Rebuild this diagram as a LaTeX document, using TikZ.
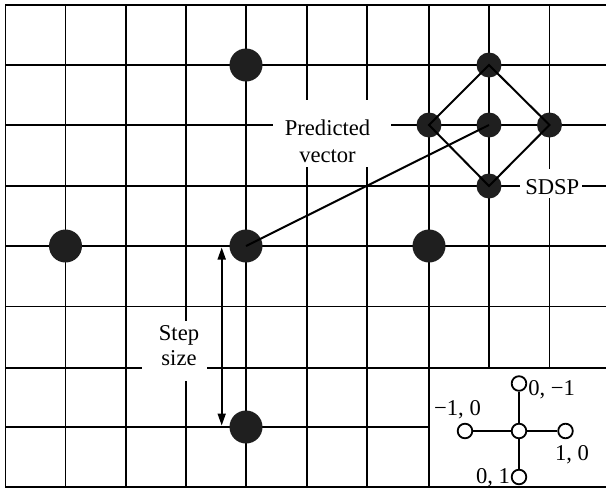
\documentclass[tikz,border=0pt]{standalone}
\usepackage{fontspec}
\setmainfont{Liberation Serif}
\usetikzlibrary{arrows.meta}
\begin{document}
\begin{tikzpicture}[x=0.5pt,y=-0.5pt,
  gridline/.style={line width=0.95pt, line cap=rect},
  bigdot/.style={circle, fill=black!88, minimum size=16.5pt, inner sep=0pt},
  smalldot/.style={circle, fill=black!88, minimum size=12.5pt, inner sep=0pt},
  link/.style={line width=1pt},
  leg/.style={circle, draw=black, line width=0.9pt, fill=white, minimum size=7.3pt, inner sep=0pt},
  leglink/.style={line width=0.9pt},
  lbl/.style={font=\fontsize{11.3}{13.5}\selectfont, inner sep=0pt, align=center},
  dbl/.style={line width=0.85pt, {Triangle[length=6pt,width=4pt]}-{Triangle[length=6pt,width=4pt]}},
]
\useasboundingbox (0,0) rectangle (606,488);
% grid
\foreach \x in {5.5,65.5,126,186,246,307,367,429} \draw[gridline] (\x,5) -- (\x,487);
\foreach \x in {489,549.5} \draw[gridline] (\x,5) -- (\x,368);
\foreach \y in {5,65,125,186,246,306.5,368,487} \draw[gridline] (5.5,\y) -- (606,\y);
\draw[gridline] (5.5,427) -- (429,427);
% gaps for labels
\fill[white] (273,100) rectangle (391,167);
\fill[white] (520,169) rectangle (582,198);
\fill[white] (142.3,321) rectangle (206.7,380.7);
% search points
\node[bigdot] (bN) at (246,65) {};
\node[bigdot] (bW) at (65.5,246) {};
\node[bigdot] (bC) at (246,246) {};
\node[bigdot] (bE) at (429,246) {};
\node[bigdot] (bS) at (246,427) {};
\node[smalldot] (sN) at (489,65) {};
\node[smalldot] (sW) at (429,125) {};
\node[smalldot] (sC) at (489,125) {};
\node[smalldot] (sE) at (549.5,125) {};
\node[smalldot] (sS) at (489,186) {};
\draw[link] (sN.center) -- (sE.center) -- (sS.center) -- (sW.center) -- cycle;
\draw[link] (bC.center) -- (sC.center);
% step size arrow
\coordinate (aTop) at (221.7,247.5);
\coordinate (aBot) at (221.7,425.5);
\draw[dbl] (aTop) -- (aBot);
% labels
\node[lbl, font=\fontsize{11.3}{13.5}\selectfont, anchor=base] (pv) at (327.5,162) {Predicted\\vector};
\node[lbl, anchor=base] (sdsp) at (552.3,194.3) {SDSP};
\node[lbl, font=\fontsize{11.3}{12.5}\selectfont, anchor=base] (ss) at (179,365.5) {Step\\size};
% legend
\node[leg] (lC) at (519,431) {};
\node[leg] (lW) at (465,431) {};
\node[leg] (lE) at (565.5,431) {};
\node[leg] (lN) at (519,383.5) {};
\node[leg] (lS) at (519,477) {};
\draw[leglink] (lC) -- (lW);
\draw[leglink] (lC) -- (lE);
\draw[leglink] (lC) -- (lN);
\draw[leglink] (lC) -- (lS);
\node[lbl, anchor=base] (tN) at (551.7,395) {0, −1};
\node[lbl, anchor=base] (tW) at (457.5,415) {−1, 0};
\node[lbl, anchor=base] (tE) at (572,460) {1, 0};
\node[lbl, anchor=base] (tS) at (493,483.3) {0, 1};
\end{tikzpicture}
\end{document}
